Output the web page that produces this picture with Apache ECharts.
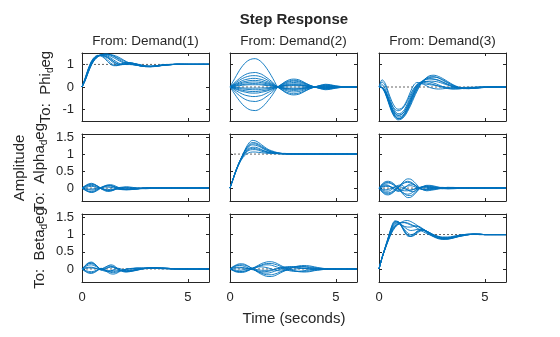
<!DOCTYPE html>
<html><head><meta charset="utf-8">
<script src="https://cdn.jsdelivr.net/npm/echarts@6/dist/echarts.min.js"></script>
<style>html,body{margin:0;padding:0;background:#fff}#c{width:560px;height:337px}</style>
</head><body><div id="c"></div><script>
// time samples (seconds)
const t = [0,0.15,0.3,0.45,0.6,0.75,0.9,1.05,1.2,1.35,1.5,1.65,1.8,1.95,2.1,2.25,2.4,2.6,2.8,3.0,3.25,3.5,3.75,4.0,4.25,4.5,4.75,5.0,5.5,6.0];

// To: Phi_deg
const phiFromD1 = [
  [0,0.38,0.8,1.12,1.3,1.38,1.38,1.32,1.2,1.06,0.97,0.95,0.99,1.04,1.07,1.07,1.05,1.0,0.95,0.92,0.92,0.94,0.97,0.99,1.0,1.01,1.01,1.0,1.0,1.0],
  [0,0.4,0.82,1.15,1.33,1.4,1.37,1.27,1.13,1.0,0.94,0.94,0.99,1.05,1.08,1.08,1.05,0.99,0.94,0.91,0.91,0.94,0.97,0.99,1.0,1.01,1.0,1.0,1.0,1.0],
  [0,0.3,0.68,1.0,1.22,1.35,1.42,1.45,1.45,1.42,1.37,1.3,1.23,1.16,1.1,1.05,1.01,0.96,0.92,0.9,0.9,0.92,0.95,0.97,0.99,1.0,1.0,1.0,1.0,1.0],
  [0,0.33,0.74,1.06,1.26,1.37,1.41,1.41,1.37,1.29,1.19,1.1,1.03,1.0,0.99,0.99,0.98,0.96,0.93,0.91,0.91,0.93,0.96,0.98,0.99,1.0,1.0,1.0,1.0,1.0],
  [0,0.35,0.77,1.1,1.29,1.38,1.4,1.37,1.29,1.17,1.06,0.99,0.97,1.0,1.04,1.06,1.05,1.01,0.96,0.92,0.91,0.93,0.96,0.98,0.99,1.0,1.0,1.0,1.0,1.0],
  [0,0.28,0.65,0.98,1.2,1.33,1.41,1.44,1.44,1.43,1.4,1.35,1.28,1.2,1.12,1.06,1.01,0.96,0.92,0.9,0.89,0.91,0.94,0.97,0.99,1.0,1.0,1.0,1.0,1.0],
  [0,0.36,0.78,1.1,1.29,1.37,1.39,1.36,1.3,1.22,1.12,1.04,1.0,0.99,1.01,1.03,1.03,1.0,0.96,0.93,0.91,0.92,0.95,0.98,0.99,1.0,1.0,1.0,1.0,1.0],
  [0,0.31,0.7,1.03,1.24,1.36,1.42,1.43,1.41,1.36,1.29,1.21,1.13,1.07,1.03,1.01,0.99,0.96,0.93,0.91,0.9,0.92,0.95,0.97,0.99,1.0,1.0,1.0,1.0,1.0],
  [0,0.34,0.75,1.08,1.28,1.38,1.41,1.39,1.33,1.23,1.12,1.03,0.99,0.99,1.02,1.04,1.04,1.01,0.97,0.93,0.91,0.92,0.95,0.98,0.99,1.0,1.0,1.0,1.0,1.0],
  [0,0.29,0.67,0.99,1.21,1.34,1.41,1.44,1.44,1.41,1.35,1.27,1.18,1.1,1.05,1.02,0.99,0.96,0.93,0.9,0.9,0.92,0.95,0.97,0.99,1.0,1.0,1.0,1.0,1.0]
];
const phiFromD2 = [
  [0,0.25,0.5,0.74,0.94,1.09,1.19,1.24,1.25,1.2,1.09,0.93,0.73,0.5,0.25,0,-0.1,-0.23,-0.32,-0.35,-0.32,-0.21,-0.09,0,0.07,0.12,0.1,0.05,0,-0.01],
  [0,0.13,0.26,0.38,0.48,0.56,0.61,0.63,0.64,0.61,0.56,0.47,0.37,0.26,0.13,0,-0.09,-0.2,-0.27,-0.3,-0.27,-0.18,-0.08,0,0.06,0.1,0.08,0.04,0,-0.01],
  [0,0.1,0.2,0.3,0.38,0.44,0.48,0.5,0.5,0.48,0.44,0.37,0.29,0.2,0.1,0,-0.07,-0.14,-0.2,-0.22,-0.2,-0.13,-0.06,0,0.05,0.08,0.06,0.03,0,-0.01],
  [0,0.08,0.15,0.22,0.29,0.33,0.36,0.38,0.38,0.36,0.33,0.28,0.22,0.15,0.08,0,-0.05,-0.1,-0.14,-0.15,-0.14,-0.09,-0.04,0,0.04,0.06,0.05,0.02,0,0],
  [0,0.06,0.12,0.17,0.22,0.25,0.28,0.29,0.29,0.28,0.25,0.21,0.17,0.12,0.06,0,0.03,0.06,0.08,0.09,0.08,0.05,0.02,0,-0.02,-0.03,-0.02,-0.01,0,0],
  [0,0.04,0.09,0.13,0.17,0.19,0.21,0.22,0.22,0.21,0.19,0.16,0.13,0.09,0.04,0,-0.03,-0.07,-0.09,-0.1,-0.09,-0.06,-0.03,0,0.02,0.04,0.03,0.02,0,0],
  [0,0.03,0.06,0.09,0.11,0.13,0.14,0.15,0.15,0.14,0.13,0.11,0.09,0.06,0.03,0,-0.03,-0.06,-0.08,-0.09,-0.08,-0.05,-0.02,0,0.02,0.03,0.02,0.01,0,0],
  [0,0.02,0.04,0.06,0.08,0.09,0.1,0.1,0.1,0.1,0.09,0.07,0.06,0.04,0.02,0,0.02,0.04,0.05,0.06,0.05,0.04,0.02,0,-0.02,-0.03,-0.02,-0.01,0,0],
  [0,-0.01,-0.02,-0.03,-0.04,-0.05,-0.05,-0.05,-0.05,-0.05,-0.04,-0.04,-0.03,-0.02,-0.01,0,-0.02,-0.04,-0.05,-0.05,-0.05,-0.03,-0.01,0,0.01,0.02,0.01,0.01,0,0],
  [0,-0.02,-0.05,-0.07,-0.09,-0.1,-0.11,-0.12,-0.12,-0.12,-0.1,-0.09,-0.07,-0.05,-0.02,0,0.03,0.07,0.09,0.1,0.09,0.06,0.03,0,-0.02,-0.04,-0.03,-0.02,0,0],
  [0,-0.04,-0.08,-0.12,-0.15,-0.17,-0.19,-0.2,-0.2,-0.19,-0.17,-0.15,-0.12,-0.08,-0.04,0,0.04,0.09,0.13,0.14,0.13,0.08,0.04,0,-0.03,-0.05,-0.04,-0.02,0,0],
  [0,-0.05,-0.11,-0.16,-0.2,-0.23,-0.26,-0.27,-0.27,-0.26,-0.23,-0.2,-0.16,-0.11,-0.05,0,0.06,0.13,0.18,0.2,0.18,0.12,0.05,0,-0.04,-0.07,-0.06,-0.03,0,0],
  [0,-0.08,-0.17,-0.25,-0.32,-0.37,-0.4,-0.42,-0.42,-0.4,-0.37,-0.31,-0.24,-0.17,-0.08,0,0.08,0.17,0.23,0.26,0.23,0.16,0.07,0,-0.05,-0.08,-0.06,-0.03,0,0.01],
  [0,-0.13,-0.26,-0.38,-0.48,-0.56,-0.61,-0.63,-0.64,-0.61,-0.56,-0.47,-0.37,-0.26,-0.13,0,0.09,0.2,0.27,0.3,0.27,0.18,0.08,0,-0.06,-0.1,-0.08,-0.04,0,0.01],
  [0,-0.21,-0.42,-0.61,-0.78,-0.9,-0.99,-1.03,-1.04,-1.0,-0.9,-0.77,-0.6,-0.42,-0.21,0,0.1,0.23,0.32,0.35,0.32,0.21,0.09,0,-0.07,-0.12,-0.1,-0.05,0,0.01]
];
const phiFromD3 = [
  [0,0.32,0.15,-0.25,-0.62,-0.88,-0.98,-0.95,-0.8,-0.52,-0.18,0.1,0.2,0.18,0.15,0.12,0.1,0.08,0.05,0.02,-0.02,-0.05,-0.06,-0.05,-0.03,-0.02,-0.01,0,0,0],
  [0,0.22,0.05,-0.35,-0.75,-1.05,-1.18,-1.15,-1.0,-0.72,-0.4,-0.1,0.12,0.2,0.2,0.18,0.15,0.1,0.04,-0.02,-0.07,-0.09,-0.08,-0.06,-0.04,-0.02,-0.01,0,0,0],
  [0,0.1,-0.1,-0.5,-0.88,-1.12,-1.25,-1.22,-1.08,-0.8,-0.48,-0.17,0.08,0.2,0.24,0.24,0.22,0.17,0.1,0.02,-0.05,-0.08,-0.08,-0.06,-0.04,-0.02,-0.01,0,0,0],
  [0,-0.05,-0.3,-0.7,-1.1,-1.35,-1.45,-1.42,-1.3,-1.08,-0.8,-0.48,-0.18,0.08,0.28,0.42,0.5,0.52,0.47,0.38,0.24,0.1,0.0,-0.05,-0.07,-0.06,-0.04,-0.02,0,0],
  [0,-0.04,-0.26,-0.64,-1.02,-1.28,-1.4,-1.39,-1.26,-1.02,-0.72,-0.4,-0.12,0.1,0.26,0.36,0.42,0.44,0.41,0.33,0.2,0.08,-0.01,-0.06,-0.07,-0.05,-0.03,-0.02,0,0],
  [0,-0.03,-0.25,-0.62,-1.0,-1.25,-1.38,-1.36,-1.22,-0.98,-0.68,-0.36,-0.08,0.14,0.3,0.4,0.45,0.45,0.4,0.3,0.18,0.06,-0.02,-0.06,-0.07,-0.05,-0.03,-0.02,0,0],
  [0,-0.03,-0.22,-0.58,-0.96,-1.2,-1.32,-1.3,-1.16,-0.92,-0.62,-0.3,-0.04,0.16,0.28,0.34,0.36,0.35,0.31,0.23,0.12,0.03,-0.03,-0.06,-0.06,-0.04,-0.03,-0.01,0,0],
  [0,-0.02,-0.2,-0.55,-0.92,-1.15,-1.25,-1.22,-1.08,-0.84,-0.55,-0.25,0.0,0.15,0.22,0.25,0.26,0.25,0.22,0.16,0.08,0.0,-0.05,-0.07,-0.06,-0.04,-0.02,-0.01,0,0],
  [0,-0.02,-0.18,-0.48,-0.8,-0.98,-1.05,-1.0,-0.85,-0.6,-0.3,-0.05,0.1,0.15,0.12,0.05,-0.02,-0.07,-0.09,-0.08,-0.05,-0.03,-0.02,-0.02,-0.01,-0.01,0,0,0,0],
  [0,-0.04,-0.28,-0.66,-1.05,-1.3,-1.4,-1.37,-1.2,-0.92,-0.58,-0.24,0.04,0.2,0.3,0.35,0.36,0.34,0.29,0.21,0.11,0.02,-0.04,-0.07,-0.07,-0.05,-0.03,-0.01,0,0]
];

// To: Alpha_deg
const alphaFromD1 = [
  [0,0.07,0.12,0.14,0.11,0.05,-0.02,-0.07,-0.1,-0.09,-0.06,0,0.02,0.03,0.04,0.03,0.02,0,-0.01,-0.02,-0.01,0,0,0,0,0,0,0,0,0],
  [0,-0.06,-0.1,-0.12,-0.1,-0.04,0.02,0.06,0.09,0.08,0.05,0,-0.03,-0.04,-0.04,-0.03,-0.02,-0.01,0,0.01,0.01,0,0,0,0,0,0,0,0,0],
  [0,0.04,0.07,0.08,0.06,0.02,-0.02,-0.05,-0.07,-0.06,-0.04,-0.02,-0.03,-0.04,-0.05,-0.05,-0.04,-0.03,-0.02,-0.01,0,0,0,0,0,0,0,0,0,0],
  [0,-0.03,-0.05,-0.06,-0.05,-0.02,0.01,0.04,0.06,0.06,0.04,0.01,-0.02,-0.03,-0.03,-0.03,-0.02,-0.02,-0.01,-0.01,0,0,0,0,0,0,0,0,0,0],
  [0,0.05,0.09,0.1,0.09,0.05,0,-0.04,-0.06,-0.07,-0.05,-0.03,-0.04,-0.05,-0.05,-0.04,-0.03,-0.02,-0.01,0,0,0,0,0,0,0,0,0,0,0],
  [0,-0.06,-0.11,-0.13,-0.11,-0.06,0,0.05,0.07,0.07,0.05,0.02,-0.01,-0.03,-0.04,-0.04,-0.03,-0.02,-0.01,0,0,0,0,0,0,0,0,0,0,0],
  [0,0.06,0.1,0.12,0.1,0.05,-0.01,-0.05,-0.08,-0.08,-0.06,-0.02,0,0.02,0.02,0.02,0.01,0,-0.01,-0.01,0,0,0,0,0,0,0,0,0,0],
  [0,-0.05,-0.09,-0.1,-0.08,-0.03,0.01,0.05,0.08,0.1,0.08,0.04,0,-0.02,-0.03,-0.03,-0.03,-0.02,-0.01,0,0,0,0,0,0,0,0,0,0,0],
  [0,0.02,0.04,0.05,0.04,0.01,-0.01,-0.03,-0.04,-0.04,-0.03,-0.02,-0.02,-0.03,-0.03,-0.03,-0.02,-0.02,-0.01,-0.01,0,0,0,0,0,0,0,0,0,0],
  [0,-0.02,-0.03,-0.03,-0.02,0,0.02,0.03,0.03,0.02,0.01,0,0.01,0.01,0.01,0,0,0,0,0,0,0,0,0,0,0,0,0,0,0]
];
const alphaFromD2 = [
  [0,0.28,0.55,0.78,0.98,1.18,1.33,1.4,1.39,1.34,1.27,1.2,1.14,1.1,1.07,1.04,1.02,1.01,1.0,1.0,1.0,1.0,1.0,1.0,1.0,1.0,1.0,1.0,1.0,1.0],
  [0,0.28,0.55,0.78,0.97,1.15,1.28,1.34,1.33,1.29,1.23,1.17,1.12,1.08,1.05,1.03,1.02,1.01,1.0,1.0,1.0,1.0,1.0,1.0,1.0,1.0,1.0,1.0,1.0,1.0],
  [0,0.28,0.55,0.77,0.97,1.14,1.25,1.3,1.3,1.26,1.2,1.15,1.1,1.07,1.05,1.03,1.02,1.01,1.01,1.0,1.0,1.0,1.0,1.0,1.0,1.0,1.0,1.0,1.0,1.0],
  [0,0.28,0.55,0.77,0.96,1.12,1.22,1.27,1.26,1.23,1.18,1.13,1.09,1.06,1.04,1.03,1.02,1.02,1.01,1.01,1.0,1.0,1.0,1.0,1.0,1.0,1.0,1.0,1.0,1.0],
  [0,0.27,0.54,0.76,0.94,1.08,1.17,1.2,1.2,1.17,1.13,1.09,1.06,1.04,1.03,1.02,1.02,1.01,1.01,1.01,1.0,1.0,1.0,1.0,1.0,1.0,1.0,1.0,1.0,1.0],
  [0,0.27,0.53,0.75,0.93,1.06,1.14,1.17,1.16,1.14,1.11,1.08,1.05,1.04,1.03,1.02,1.01,1.01,1.0,1.0,1.0,1.0,1.0,1.0,1.0,1.0,1.0,1.0,1.0,1.0],
  [0,0.27,0.53,0.75,0.92,1.04,1.11,1.13,1.13,1.11,1.08,1.06,1.04,1.03,1.02,1.02,1.01,1.01,1.01,1.0,1.0,1.0,1.0,1.0,1.0,1.0,1.0,1.0,1.0,1.0],
  [0,0.26,0.52,0.73,0.89,0.99,1.04,1.06,1.06,1.05,1.04,1.03,1.02,1.02,1.01,1.01,1.0,1.0,1.0,1.0,1.0,1.0,1.0,1.0,1.0,1.0,1.0,1.0,1.0,1.0]
];
const alphaFromD3 = [
  [0,0.12,0.19,0.2,0.17,0.1,0,-0.12,-0.22,-0.28,-0.27,-0.2,-0.1,0,0.05,0.08,0.08,0.06,0.03,0,-0.02,-0.02,-0.01,0,0.01,0,0,0,0,0],
  [0,-0.12,-0.19,-0.2,-0.16,-0.09,0,0.12,0.22,0.27,0.26,0.19,0.09,0,-0.05,-0.08,-0.07,-0.05,-0.03,0,0.02,0.02,0.01,0,0,0,0,0,0,0],
  [0,0.1,0.16,0.17,0.14,0.08,0,-0.09,-0.17,-0.22,-0.22,-0.16,-0.08,0,0.04,0.06,0.06,0.04,0.02,0,-0.01,-0.01,0,0,0,0,0,0,0,0],
  [0,-0.1,-0.16,-0.17,-0.14,-0.07,0.01,0.09,0.15,0.17,0.15,0.1,0.04,-0.01,-0.04,-0.05,-0.04,-0.03,-0.01,0,0.01,0.01,0,0,0,0,0,0,0,0],
  [0,0.08,0.14,0.15,0.12,0.06,-0.02,-0.1,-0.16,-0.18,-0.16,-0.1,-0.03,0.02,0.05,0.06,0.05,0.03,0.01,-0.01,-0.02,-0.01,0,0,0,0,0,0,0,0],
  [0,-0.08,-0.13,-0.14,-0.11,-0.05,0.03,0.11,0.17,0.2,0.18,0.12,0.04,-0.02,-0.05,-0.06,-0.05,-0.03,-0.01,0.01,0.02,0.01,0,0,0,0,0,0,0,0],
  [0,0.06,0.1,0.08,0.02,-0.05,-0.1,-0.08,0,0.08,0.12,0.1,0.04,-0.02,-0.05,-0.04,-0.02,0,0.02,0.02,0.01,0,0,0,0,0,0,0,0,0],
  [0,-0.05,-0.09,-0.09,-0.04,0.03,0.08,0.09,0.03,-0.05,-0.1,-0.1,-0.05,0.01,0.04,0.05,0.03,0.01,-0.01,-0.02,-0.01,0,0,0,0,0,0,0,0,0],
  [0,0.04,0.07,0.06,0.01,-0.05,-0.07,-0.04,0.02,0.06,0.07,0.05,0.01,-0.02,-0.03,-0.02,-0.01,0,0.01,0.01,0,0,0,0,0,0,0,0,0,0],
  [0,-0.03,-0.05,-0.04,0,0.04,0.05,0.03,-0.02,-0.05,-0.06,-0.04,-0.01,0.02,0.03,0.02,0.01,0,-0.01,-0.01,0,0,0,0,0,0,0,0,0,0],
  [0,0.03,0.05,0.05,0.03,0,-0.03,-0.06,-0.08,-0.08,-0.06,-0.03,0,0.02,0.03,0.03,0.02,0.01,0,0,0,0,0,0,0,0,0,0,0,0]
];

// To: Beta_deg
const betaFromD1 = [
  [0,0.1,0.18,0.2,0.15,0.06,-0.03,0.02,0.08,0.12,0.1,0.03,-0.04,-0.08,-0.09,-0.08,-0.06,-0.03,0,0.02,0.03,0.04,0.03,0.02,0.01,0.01,0,0,0,0],
  [0,0.09,0.16,0.18,0.14,0.06,-0.01,0,0.04,0.07,0.06,0.02,-0.03,-0.06,-0.07,-0.06,-0.05,-0.03,0,0.02,0.03,0.03,0.02,0.02,0.01,0,0,0,0,0],
  [0,-0.07,-0.12,-0.13,-0.1,-0.04,0.02,-0.03,-0.09,-0.14,-0.15,-0.12,-0.07,-0.03,0,0.01,0.02,0.03,0.03,0.03,0.03,0.02,0.02,0.01,0.01,0,0,0,0,0],
  [0,-0.06,-0.1,-0.11,-0.08,-0.03,0.01,-0.01,-0.06,-0.1,-0.11,-0.09,-0.06,-0.03,-0.01,0,0.01,0.02,0.02,0.02,0.02,0.02,0.01,0.01,0,0,0,0,0,0],
  [0,0.06,0.11,0.12,0.09,0.04,0,0.04,0.08,0.09,0.06,0.01,-0.04,-0.07,-0.08,-0.07,-0.05,-0.02,0,0.02,0.03,0.03,0.03,0.02,0.01,0,0,0,0,0],
  [0,-0.04,-0.07,-0.08,-0.06,-0.02,0.01,-0.02,-0.06,-0.08,-0.08,-0.06,-0.04,-0.02,-0.01,0,0.01,0.02,0.02,0.02,0.02,0.02,0.01,0.01,0,0,0,0,0,0],
  [0,0.03,0.05,0.05,0.03,0,-0.03,-0.01,0.03,0.05,0.04,0.01,-0.03,-0.05,-0.06,-0.05,-0.03,-0.01,0.01,0.02,0.02,0.02,0.01,0.01,0,0,0,0,0,0],
  [0,0.02,0.03,0.03,0.02,0,-0.02,-0.04,-0.05,-0.05,-0.04,-0.03,-0.04,-0.05,-0.05,-0.04,-0.03,-0.01,0,0.01,0.02,0.02,0.01,0.01,0,0,0,0,0,0],
  [0,0.08,0.15,0.16,0.12,0.05,-0.02,-0.06,-0.08,-0.06,-0.02,0.02,0.01,-0.03,-0.06,-0.07,-0.06,-0.04,-0.01,0.01,0.03,0.03,0.03,0.02,0.01,0,0,0,0,0]
];
const betaFromD2 = [
  [0,0.07,0.12,0.15,0.15,0.12,0.07,0.01,-0.05,-0.11,-0.16,-0.2,-0.22,-0.22,-0.2,-0.16,-0.11,-0.05,0.01,0.05,0.09,0.1,0.09,0.06,0.03,0.01,0,0,0,0],
  [0,0.06,0.1,0.12,0.12,0.1,0.06,0.01,-0.04,-0.09,-0.13,-0.16,-0.17,-0.17,-0.15,-0.12,-0.08,-0.03,0.01,0.04,0.07,0.07,0.06,0.04,0.02,0.01,0,0,0,0],
  [0,-0.05,-0.09,-0.1,-0.1,-0.08,-0.04,0.01,0.06,0.11,0.16,0.19,0.21,0.21,0.19,0.15,0.1,0.04,-0.01,-0.05,-0.08,-0.09,-0.08,-0.05,-0.03,-0.01,0,0,0,0],
  [0,-0.04,-0.07,-0.08,-0.08,-0.06,-0.03,0.01,0.05,0.09,0.12,0.15,0.16,0.16,0.14,0.11,0.07,0.02,-0.02,-0.05,-0.07,-0.07,-0.06,-0.04,-0.02,-0.01,0,0,0,0],
  [0,0.05,0.09,0.1,0.09,0.06,0.02,-0.01,0.03,0.07,0.1,0.12,0.12,0.11,0.08,0.05,0.02,-0.02,-0.05,-0.07,-0.07,-0.05,-0.03,-0.01,0,0,0,0,0,0],
  [0,-0.04,-0.07,-0.08,-0.07,-0.05,-0.02,0,-0.04,-0.08,-0.11,-0.12,-0.12,-0.1,-0.07,-0.04,-0.01,0.02,0.05,0.07,0.07,0.06,0.04,0.02,0.01,0,0,0,0,0],
  [0,0.03,0.05,0.05,0.04,0.02,0,-0.02,-0.04,-0.06,-0.08,-0.08,-0.07,-0.05,-0.02,0.01,0.04,0.06,0.07,0.06,0.04,0.02,0,-0.01,-0.01,0,0,0,0,0],
  [0,0.02,0.03,0.03,0.03,0.02,0.01,0,-0.01,-0.03,-0.04,-0.04,-0.04,-0.03,-0.01,0.01,0.03,0.04,0.04,0.04,0.03,0.01,0,-0.01,0,0,0,0,0,0],
  [0,-0.02,-0.04,-0.04,-0.03,-0.01,0.01,0.03,0.05,0.06,0.06,0.05,0.03,0,-0.03,-0.05,-0.06,-0.05,-0.03,-0.01,0.01,0.02,0.02,0.01,0,0,0,0,0,0]
];
const betaFromD3 = [
  [0,0.35,0.65,0.95,1.25,1.4,1.38,1.25,1.08,0.96,0.95,1.02,1.1,1.15,1.15,1.1,1.05,0.98,0.93,0.9,0.9,0.93,0.97,1.0,1.01,1.02,1.01,1.0,1.0,1.0],
  [0,0.35,0.64,0.94,1.22,1.38,1.38,1.26,1.1,0.98,0.95,0.99,1.07,1.13,1.14,1.1,1.05,0.98,0.94,0.91,0.91,0.94,0.97,1.0,1.01,1.01,1.0,1.0,1.0,1.0],
  [0,0.34,0.62,0.9,1.18,1.33,1.35,1.27,1.15,1.05,1.0,1.02,1.08,1.12,1.13,1.1,1.05,0.99,0.94,0.91,0.9,0.92,0.96,0.99,1.01,1.01,1.01,1.0,1.0,1.0],
  [0,0.34,0.63,0.9,1.15,1.3,1.34,1.3,1.22,1.15,1.12,1.13,1.15,1.16,1.14,1.09,1.03,0.97,0.92,0.89,0.89,0.92,0.96,0.99,1.0,1.01,1.01,1.0,1.0,1.0],
  [0,0.33,0.6,0.84,1.05,1.2,1.3,1.36,1.4,1.41,1.38,1.33,1.27,1.2,1.13,1.06,1.0,0.93,0.88,0.86,0.87,0.9,0.94,0.97,1.0,1.01,1.01,1.0,1.0,1.0],
  [0,0.33,0.61,0.87,1.1,1.24,1.32,1.35,1.35,1.32,1.28,1.26,1.24,1.2,1.14,1.07,1.01,0.95,0.9,0.87,0.87,0.9,0.94,0.97,1.0,1.01,1.01,1.0,1.0,1.0],
  [0,0.33,0.6,0.86,1.08,1.22,1.3,1.34,1.35,1.34,1.3,1.25,1.19,1.13,1.08,1.03,0.99,0.94,0.9,0.88,0.88,0.91,0.95,0.98,1.0,1.01,1.01,1.0,1.0,1.0],
  [0,0.34,0.62,0.88,1.12,1.26,1.3,1.28,1.24,1.22,1.22,1.24,1.25,1.22,1.16,1.09,1.02,0.95,0.9,0.88,0.88,0.91,0.95,0.98,1.0,1.01,1.01,1.0,1.0,1.0],
  [0,0.34,0.63,0.92,1.2,1.36,1.37,1.27,1.12,1.0,0.95,0.97,1.04,1.1,1.12,1.1,1.05,0.99,0.95,0.93,0.93,0.95,0.98,1.0,1.01,1.01,1.0,1.0,1.0,1.0]
];

const refLevels = [[1,0,0],[0,1,0],[0,0,1]];
const yRanges = [[-1.5,1.5],[-0.38,1.59],[-0.38,1.6]];
const yTicks = [[-1,0,1],[0,0.5,1,1.5],[0,0.5,1,1.5]];
const xTicks = [0,5];
const xRange = [0,6];
const colTitles = ['From: Demand(1)','From: Demand(2)','From: Demand(3)'];
const rowLabels = [['To:  Phi','d','eg'],['To:  Alpha','d','eg'],['To:  Beta','d','eg']];
const chartTitle = 'Step Response';
const xTitle = 'Time (seconds)';
const yTitle = 'Amplitude';

const panels = [[phiFromD1,phiFromD2,phiFromD3],[alphaFromD1,alphaFromD2,alphaFromD3],[betaFromD1,betaFromD2,betaFromD3]];

const FONT = '"Liberation Sans", Arial, Helvetica, sans-serif';
const INK = '#262626';
const BLUE = '#0072BD';
const colLeft = [82,230,379], colW = 127;
const rowTop = [53,134,214], rowH = [68,67,68];

const grid = [], xAxis = [], yAxis = [], series = [];
for (let r = 0; r < 3; r++) {
  for (let c = 0; c < 3; c++) {
    const k = r*3 + c;
    grid.push({left: colLeft[c], top: rowTop[r], width: colW, height: rowH[r], containLabel: false});
    const axLine = {show: true, onZero: false, lineStyle: {color: INK, width: 1}};
    ['bottom','top'].forEach((pos, j) => {
      xAxis.push({
        gridIndex: k, type: 'value', min: xRange[0], max: xRange[1], position: pos,
        axisLine: axLine,
        axisTick: {show: true, inside: true, length: 3, customValues: xTicks, lineStyle: {color: INK, width: 1}},
        axisLabel: {show: j === 0 && r === 2, customValues: xTicks, margin: 9, fontSize: 13, color: INK, fontFamily: FONT},
        splitLine: {show: false}
      });
    });
    ['left','right'].forEach((pos, j) => {
      yAxis.push({
        gridIndex: k, type: 'value', min: yRanges[r][0], max: yRanges[r][1], position: pos,
        axisLine: axLine,
        axisTick: {show: true, inside: true, length: 3, customValues: yTicks[r], lineStyle: {color: INK, width: 1}},
        axisLabel: {show: j === 0 && c === 0, customValues: yTicks[r], margin: 8, fontSize: 13, color: INK, fontFamily: FONT},
        splitLine: {show: false}
      });
    });
    series.push({
      type: 'line', xAxisIndex: 2*k, yAxisIndex: 2*k, symbol: 'none', silent: true, z: 1,
      data: [[xRange[0], refLevels[r][c]], [xRange[1], refLevels[r][c]]],
      lineStyle: {color: '#404040', width: 0.8, type: [2,2]}
    });
    panels[r][c].forEach(curve => {
      series.push({
        type: 'line', xAxisIndex: 2*k, yAxisIndex: 2*k, symbol: 'none', showSymbol: false,
        silent: true, smooth: 0.3, z: 2, clip: true,
        data: t.map((x, i) => [x, curve[i]]),
        lineStyle: {color: BLUE, width: 0.9}
      });
    });
  }
}

const graphic = [
  {type: 'text', x: 294, y: 20, style: {text: chartTitle, font: 'bold 15px ' + FONT, fill: INK, align: 'center', verticalAlign: 'middle'}},
  {type: 'text', x: 294, y: 319, style: {text: xTitle, font: '15px ' + FONT, fill: INK, align: 'center', verticalAlign: 'middle'}},
  {type: 'text', x: 20, y: 168, rotation: Math.PI/2, style: {text: yTitle, font: '15px ' + FONT, fill: INK, align: 'center', verticalAlign: 'middle'}}
];
colTitles.forEach((s, c) => graphic.push({type: 'text', x: colLeft[c] + colW/2, y: 41,
  style: {text: s, font: '13.5px ' + FONT, fill: INK, align: 'center', verticalAlign: 'middle'}}));
const rowLabelX = [46, 40, 40];
rowLabels.forEach((p, r) => graphic.push({type: 'text', x: rowLabelX[r], y: rowTop[r] + rowH[r]/2, rotation: Math.PI/2,
  style: {text: '{a|' + p[0] + '}{s|' + p[1] + '}{a|' + p[2] + '}', align: 'center', verticalAlign: 'middle',
    rich: {a: {fontSize: 15, fontFamily: FONT, fill: INK, color: INK}, s: {fontSize: 10, fontFamily: FONT, fill: INK, color: INK, padding: [9,0,0,0]}}}}));

const chart = echarts.init(document.getElementById('c'), null, {renderer: 'canvas'});
chart.setOption({animation: false, backgroundColor: '#fff', grid, xAxis, yAxis, series, graphic});
</script></body></html>
